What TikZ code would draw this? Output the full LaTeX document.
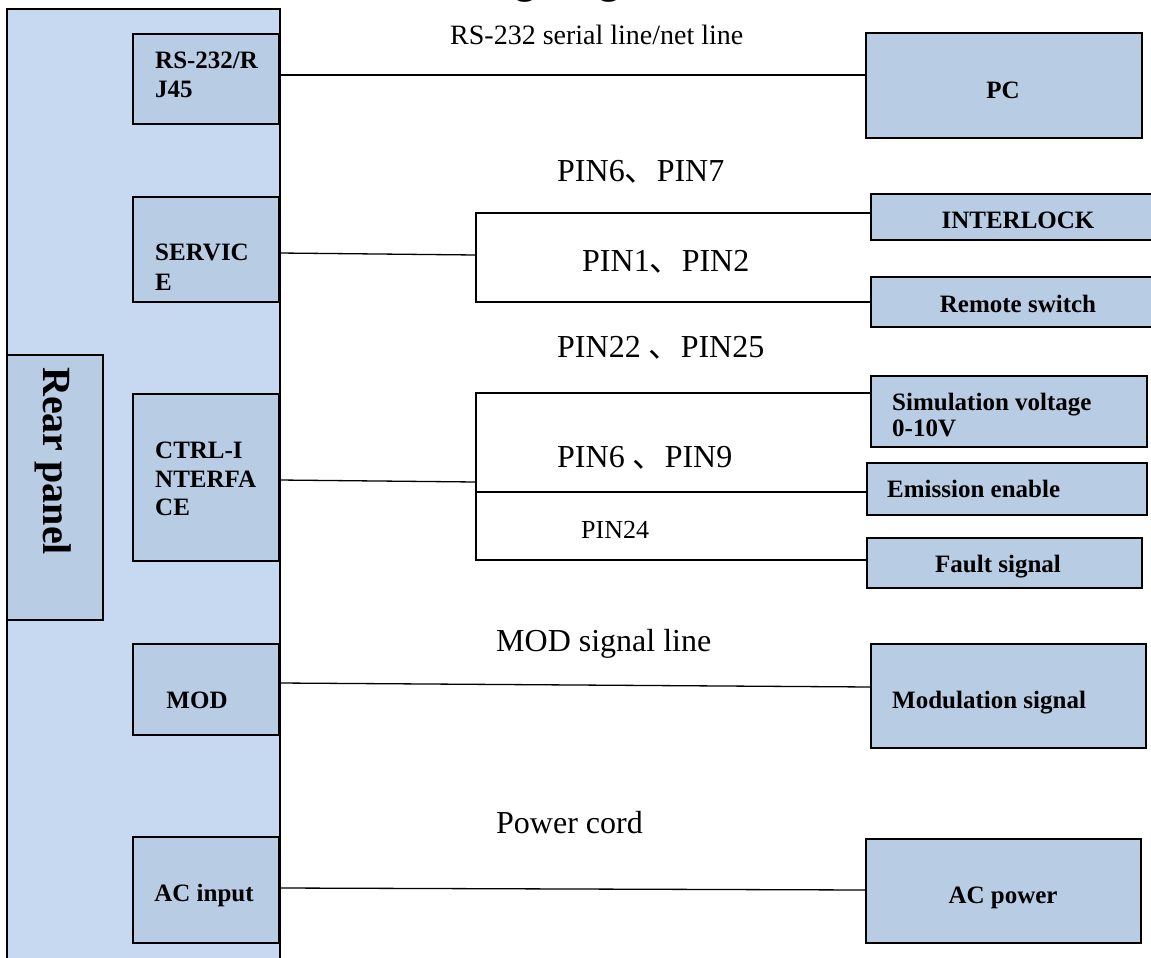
\documentclass[tikz,border=0pt]{standalone}
\usepackage{fontspec}
\setmainfont{Liberation Serif}
\newfontfamily\cjk{Noto Sans CJK SC}
\newcommand{\dun}{{\cjk 、}}
\definecolor{panelblue}{RGB}{198,217,240}
\definecolor{boxblue}{RGB}{184,204,228}
\newcommand{\bx}[5]{\node[box, minimum width=#4pt, minimum height=#5pt] (#1) at (#2,#3) {};}
\begin{document}
\begin{tikzpicture}[x=1pt,y=-1pt,
  panelbox/.style={draw=black, line width=1.2pt, fill=panelblue, anchor=north west, inner sep=0pt, outer sep=0pt},
  box/.style={draw=black, line width=1.4pt, fill=boxblue, anchor=north west, inner sep=0pt, outer sep=0pt},
  wire/.style={draw=black, line width=1.3pt},
  btxt/.style={font=\fontsize{25}{29}\selectfont\bfseries, inner sep=0pt},
  ltxt/.style={font=\fontsize{32}{36}\selectfont, inner sep=0pt, anchor=base west},
]
\useasboundingbox (0,0) rectangle (1151,958);
\begin{scope}
\clip (0,0) rectangle (1151,958);
% title (cut by the top edge)
\node[font=\fontsize{40}{44}\selectfont\bfseries, anchor=base west, inner sep=0pt] (title) at (414,-6) {Wiring diagram};
% rear panel
\node[panelbox, minimum width=273pt, minimum height=980pt] (rear) at (7,9) {};
\bx{rp}{7}{355}{96}{265}
\node[font=\fontsize{40}{44}\selectfont\bfseries, rotate=-90, anchor=base west, inner sep=0pt] (rpt) at (43,367) {Rear panel};
% left boxes
\bx{rs}{133}{34}{146}{90}
\bx{srv}{133}{197}{146}{105}
\bx{ctrl}{133}{394}{146}{167}
\bx{mod}{133}{644}{146}{91}
\bx{acin}{133}{837}{146}{106}
% right boxes
\bx{pc}{866}{33}{276}{105}
\bx{il}{871}{194}{290}{46}
\bx{rsw}{871}{277}{290}{50}
\bx{sim}{871}{376}{276}{71}
\bx{emi}{867}{463}{280}{52}
\bx{flt}{867}{538}{275}{50}
\bx{modsig}{871}{644}{275}{104}
\bx{acp}{866}{839}{275}{104}
% left box texts
\node[btxt, anchor=base west] (rs1) at (155,68) {RS-232/R};
\node[btxt, anchor=base west] (rs2) at (155,97) {J45};
\node[btxt, anchor=base west] (srv1) at (155,260) {SERVIC};
\node[btxt, anchor=base west] (srv2) at (155,290) {E};
\node[btxt, anchor=base west] (ct1) at (155,458) {CTRL-I};
\node[btxt, anchor=base west] (ct2) at (155,487) {NTERFA};
\node[btxt, anchor=base west] (ct3) at (155,515) {CE};
\node[btxt, anchor=base] (modt) at (197,708) {MOD};
\node[btxt, anchor=base] (acint) at (204,901) {AC input};
% right box texts
\node[btxt, anchor=base] (pct) at (1003,98) {PC};
\node[btxt, anchor=base] (ilt) at (1018,228) {INTERLOCK};
\node[btxt, anchor=base] (rswt) at (1018,312) {Remote switch};
\node[btxt, anchor=base west] (sim1) at (892,410) {Simulation voltage};
\node[btxt, anchor=base west] (sim2) at (892,436) {0-10V};
\node[btxt, anchor=base west] (emit) at (887,497) {Emission enable};
\node[btxt, anchor=base] (fltt) at (998,572) {Fault signal};
\node[btxt, anchor=base west] (modsigt) at (892,708) {Modulation signal};
\node[btxt, anchor=base] (acpt) at (1003,903) {AC power};
% connectors
\draw[wire] (rs.east |- 0,75) -- (pc.west |- 0,75);
\coordinate (sA) at (476,255);
\coordinate (sT) at (476,213);
\coordinate (sB) at (476,302);
\draw[wire] (srv.east |- 0,253) -- (sA);
\draw[wire] (il.west |- sT) -- (sT) -- (sB) -- (rsw.west |- sB);
\coordinate (cA) at (476,482);
\coordinate (cT) at (476,393);
\coordinate (cM) at (476,492);
\coordinate (cB) at (476,560);
\draw[wire] (ctrl.east |- 0,480) -- (cA);
\draw[wire] (sim.west |- cT) -- (cT) -- (cB) -- (flt.west |- cB);
\draw[wire] (cM) -- (emi.west |- cM);
\draw[wire] (mod.east |- 0,683) -- (modsig.west |- 0,687);
\draw[wire] (acin.east |- 0,888) -- (acp.west |- 0,890);
% connector labels
\node[font=\fontsize{28}{32}\selectfont, inner sep=0pt, anchor=base west] (l1) at (450,45) {RS-232 serial line/net line};
\node[ltxt] (l2) at (557,181) {PIN6\dun PIN7};
\node[ltxt] (l3) at (582,271) {PIN1\dun PIN2};
\node[ltxt] (l4) at (557,357) {PIN22 \dun PIN25};
\node[ltxt] (l5) at (557,467) {PIN6 \dun PIN9};
\node[font=\fontsize{26}{30}\selectfont, inner sep=0pt, anchor=base west] (l6) at (581,538) {PIN24};
\node[ltxt] (l7) at (496,651) {MOD signal line};
\node[ltxt] (l8) at (496,833) {Power cord};
\end{scope}
\end{tikzpicture}
\end{document}
